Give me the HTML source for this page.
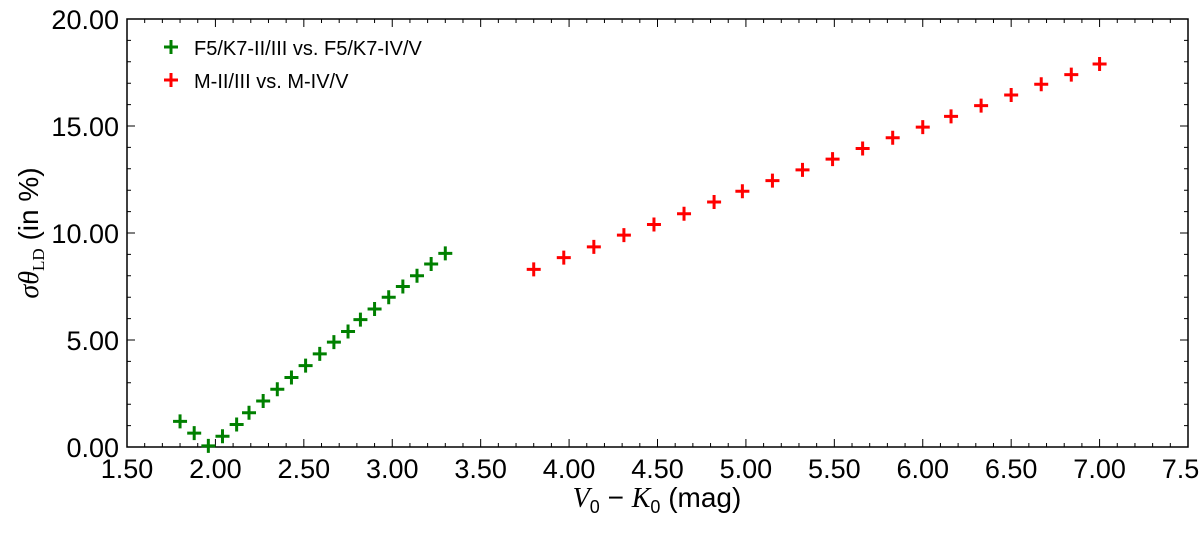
<!DOCTYPE html>
<html><head><meta charset="utf-8"><style>
body{margin:0;background:#fff;}
svg text{font-family:"Liberation Sans",sans-serif;fill:#000;}
</style></head><body>
<svg id="chart" width="1200" height="528" xmlns="http://www.w3.org/2000/svg">
<rect x="127" y="19" width="1061" height="428" fill="#fff" stroke="#000" stroke-width="1.5"/>
<g id="axes"></g>
<g id="marks"></g>
<text x="657" y="507" font-size="28" text-anchor="middle"><tspan font-family="Liberation Serif" font-style="italic">V</tspan><tspan font-size="18" dy="6">0</tspan><tspan dy="-6"> − </tspan><tspan font-family="Liberation Serif" font-style="italic">K</tspan><tspan font-size="18" dy="6">0</tspan><tspan dy="-6"> (mag)</tspan></text>
<text transform="translate(38,233) rotate(-90)" font-size="28" text-anchor="middle"><tspan font-family="Liberation Serif" font-style="italic">σθ</tspan><tspan font-size="17" dy="6" font-family="Liberation Serif">LD</tspan><tspan dy="-6"> (in %)</tspan></text>
<g>
<g><path d="M164 47h14M171 40v14" stroke="#008000" stroke-width="3"/><text x="194" y="55" font-size="20">F5/K7-II/III vs. F5/K7-IV/V</text></g>
<g><path d="M164 80h14M171 73v14" stroke="#ff0000" stroke-width="3"/><text x="194" y="88" font-size="20">M-II/III vs. M-IV/V</text></g>
</g>
</svg>
<script>
const greenX=[1.80,1.88,1.96,2.04,2.12,2.19,2.27,2.35,2.43,2.51,2.59,2.67,2.75,2.82,2.90,2.98,3.06,3.14,3.22,3.30];
const greenY=[1.2,0.65,0.05,0.5,1.05,1.6,2.15,2.7,3.25,3.8,4.35,4.9,5.4,5.95,6.45,7.0,7.5,8.0,8.55,9.05];
const redX=[3.80,3.97,4.14,4.31,4.48,4.65,4.82,4.98,5.15,5.32,5.49,5.66,5.83,6.00,6.16,6.33,6.50,6.67,6.84,7.00];
const redY=[8.3,8.85,9.35,9.9,10.4,10.9,11.45,11.95,12.45,12.95,13.45,13.95,14.45,14.95,15.45,15.95,16.45,16.95,17.4,17.9];
const xTicks=[1.5,2,2.5,3,3.5,4,4.5,5,5.5,6,6.5,7,7.5];
const yTicks=[0,5,10,15,20];
const X0=127,X1=1188,Y0=447,Y1=19;
const sx=v=>X0+(v-1.5)/6*(X1-X0);
const sy=v=>Y0-v/20*(Y0-Y1);
const NS="http://www.w3.org/2000/svg";
const axes=document.getElementById('axes'),marks=document.getElementById('marks');
function el(t,a,p){const e=document.createElementNS(NS,t);for(const k in a)e.setAttribute(k,a[k]);p.appendChild(e);return e;}
for(let i=0;i<=60;i++){const v=1.5+i*0.1,x=sx(v),maj=i%5===0,L=maj?8:4;
 const t=el('path',{d:`M${x} ${Y0}v${-L}M${x} ${Y1}v${L}`,stroke:'#000','stroke-width':1},axes);
 
 }
xTicks.forEach(v=>{const t=el('text',{x:sx(v),y:478,'font-size':27,'text-anchor':'middle'},axes);t.textContent=v.toFixed(2);
 
 });
for(let i=0;i<=20;i++){const y=sy(i),L=i%5===0?8:4;
 const t=el('path',{d:`M${X0} ${y}h${L}M${X1} ${y}h${-L}`,stroke:'#000','stroke-width':1},axes);
 
 }
yTicks.forEach(v=>{const t=el('text',{x:119,y:sy(v)+10,'font-size':27,'text-anchor':'end'},axes);t.textContent=v.toFixed(2);
 
 });
function plus(xs,ys,c,name){xs.forEach((v,i)=>{const x=sx(v),y=sy(ys[i]);
 const p=el('path',{d:`M${x-7} ${y}h14M${x} ${y-7}v14`,stroke:c,'stroke-width':3},marks);
 
 });}
plus(greenX,greenY,'#008000','point-green');
plus(redX,redY,'#ff0000','point-red');
</script>
</body></html>
